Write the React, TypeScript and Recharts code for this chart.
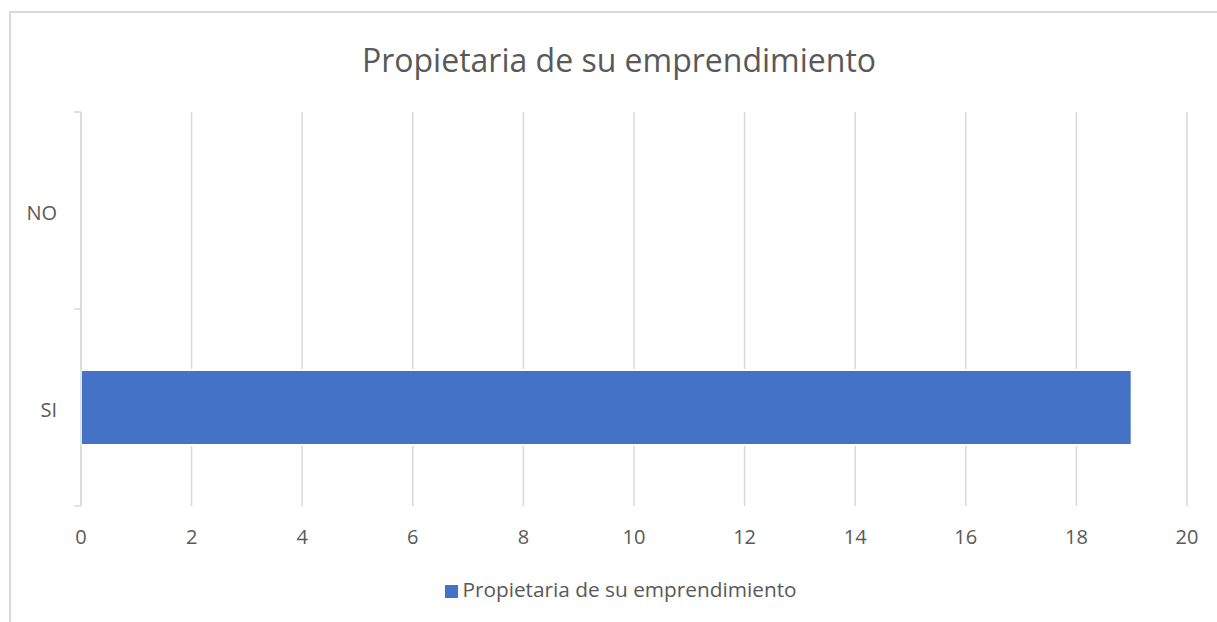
import * as React from "react"
import { BarChart, Bar, XAxis, YAxis, CartesianGrid, Legend } from "recharts"

const categories = ["NO", "SI"]
const values = [0, 19]
const xTicks = [0, 2, 4, 6, 8, 10, 12, 14, 16, 18, 20]
const seriesName = "Propietaria de su emprendimiento"

const data = categories.map((c, i) => ({ name: c, value: values[i] }))

const FONT = "'Open Sans', sans-serif"
const TEXT = "#595959"
const GRID = "#d9d9d9"
const BLUE = "#4472c4"

const W = 1217
const H = 622
const X_H = 30
const M = { top: 112, right: 30, bottom: 116 - X_H, left: 11 }
const Y_W = 70
const BAND = (H - M.top - M.bottom - X_H) / categories.length
const LABEL_GAP = 24

function CategoryTick(props: any) {
  const { x, y, payload, index } = props
  const axisX = x + LABEL_GAP
  return (
    <g>
      <text x={x} y={y + 2} dy="0.35em" textAnchor="end" fill={TEXT} fontSize={20} fontFamily={FONT}>
        {payload.value}
      </text>
      <line x1={axisX - 7} x2={axisX} y1={y - BAND / 2} y2={y - BAND / 2} stroke={GRID} strokeWidth={1.5} />
      {index === categories.length - 1 && (
        <line x1={axisX - 7} x2={axisX} y1={y + BAND / 2} y2={y + BAND / 2} stroke={GRID} strokeWidth={1.5} />
      )}
    </g>
  )
}

export default function App() {
  return (
    <div style={{ position: "absolute", left: 0, top: 0, width: W, height: H, overflow: "hidden", background: "#fff" }}>
      <div
        style={{
          position: "absolute",
          left: 9,
          top: 11,
          width: 1400,
          height: 800,
          borderTop: `2px solid ${GRID}`,
          borderLeft: `2px solid ${GRID}`,
        }}
      />
      <div
        style={{
          position: "absolute",
          left: 0,
          top: 38,
          width: 1238,
          textAlign: "center",
          fontFamily: FONT,
          fontSize: 32,
          color: TEXT,
          lineHeight: "44px",
        }}
      >
        {seriesName}
      </div>
      <div style={{ position: "absolute", left: 0, top: 0 }}>
        <BarChart width={W} height={H} data={data} layout="vertical" margin={M} barCategoryGap="31%">
          <CartesianGrid horizontal={false} stroke={GRID} strokeWidth={1.5} />
          <XAxis
            type="number"
            domain={[0, 20]}
            ticks={xTicks}
            height={X_H}
            axisLine={false}
            tickLine={false}
            tickSize={0}
            tickMargin={24}
            tick={{ fill: TEXT, fontSize: 20, fontFamily: FONT }}
          />
          <YAxis
            type="category"
            dataKey="name"
            width={Y_W}
            axisLine={{ stroke: GRID, strokeWidth: 1.5 }}
            tickLine={false}
            tickSize={0}
            tickMargin={LABEL_GAP}
            tick={<CategoryTick />}
          />
          <Legend
            layout="horizontal"
            verticalAlign="middle"
            align="center"
            iconType="square"
            iconSize={13}
            wrapperStyle={{ top: 575, left: 0, width: 1252, fontFamily: FONT, fontSize: 20.8 }}
            formatter={(v: string) => <span style={{ color: TEXT }}>{v}</span>}
          />
          <Bar
            dataKey="value"
            name={seriesName}
            fill={BLUE}
            stroke="#fff"
            strokeWidth={2}
            isAnimationActive={false}
          />
        </BarChart>
      </div>
    </div>
  )
}
